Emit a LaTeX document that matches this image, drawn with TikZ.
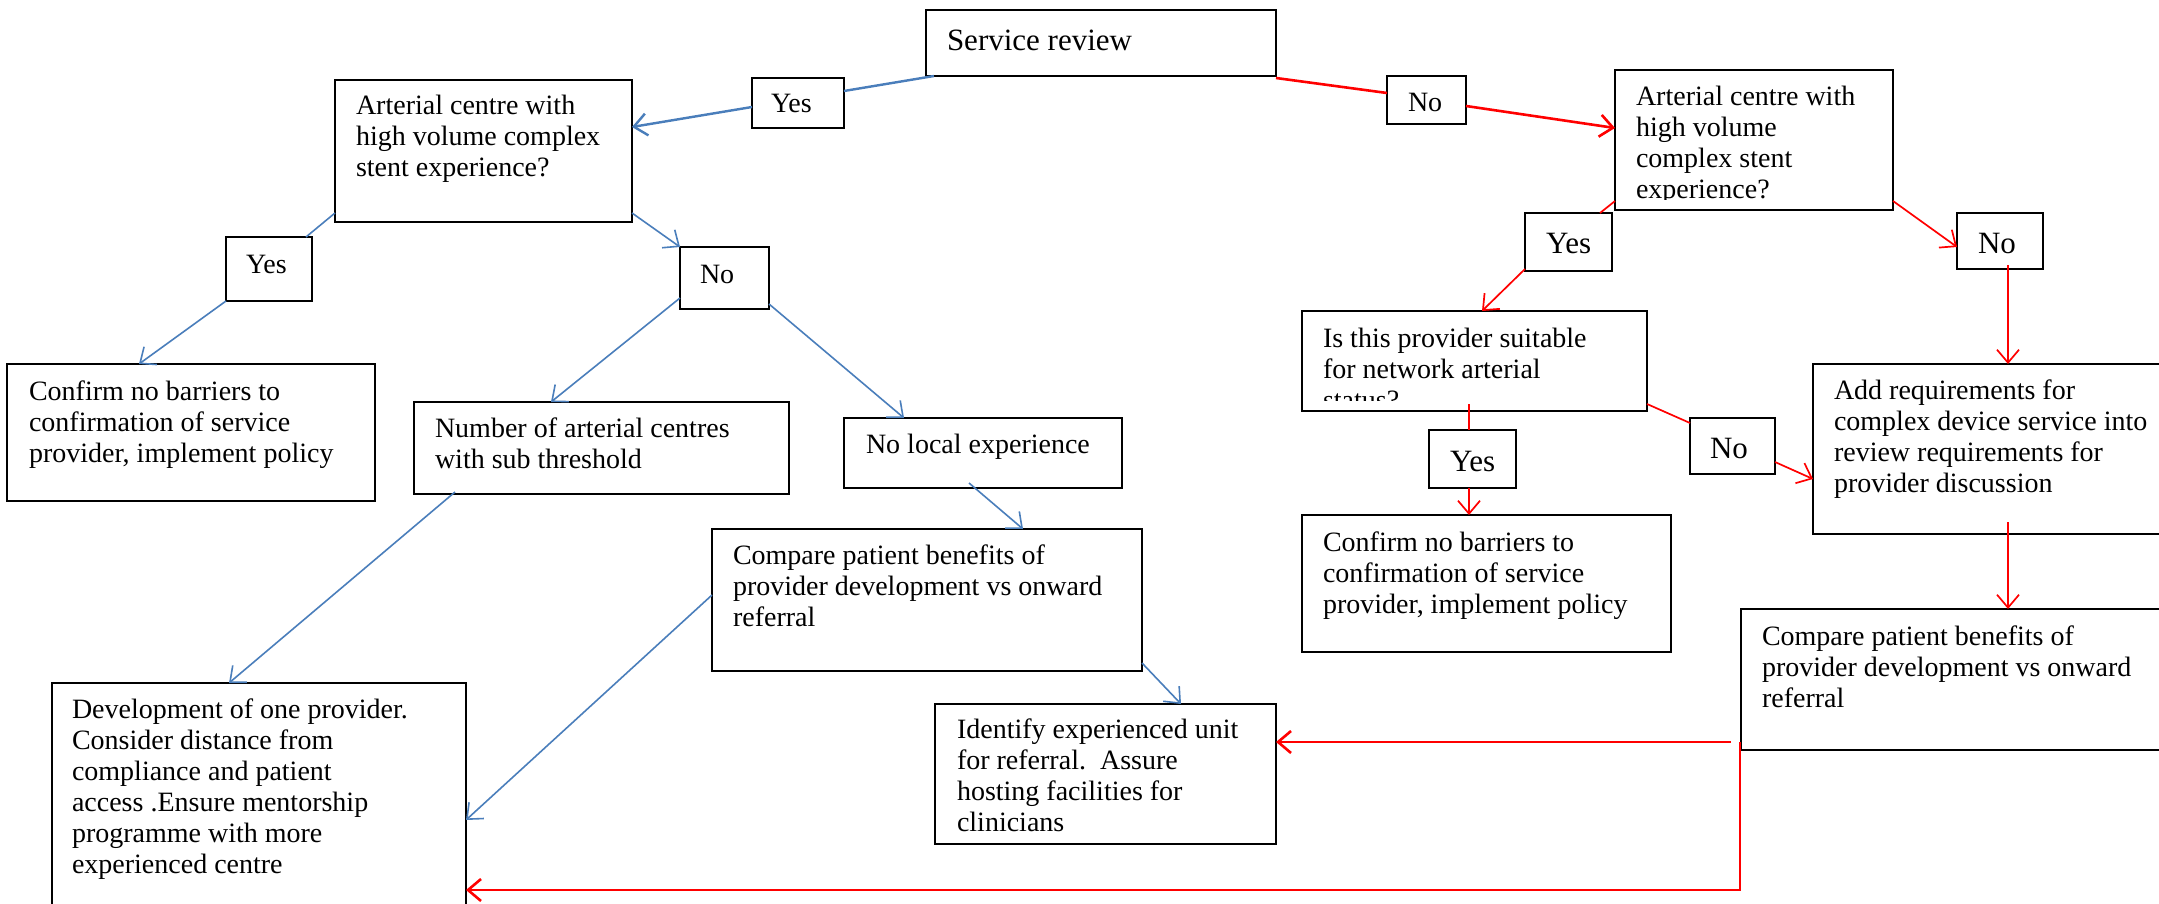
\documentclass[tikz,border=0pt]{standalone}
\usepackage{fontspec}
\setmainfont{Liberation Serif}
\usetikzlibrary{arrows.meta}
\definecolor{lblue}{HTML}{4A7EBB}
\definecolor{lred}{HTML}{FF0000}
\newcommand\ml[1]{\begin{tabular}[t]{@{}l@{}}#1\end{tabular}}
\newcommand\bx[6][]{%
  \node[box,minimum width={(#5-#3)*1pt},minimum height={(#6-#4)*1pt},#1] (#2) at (#3,#4) {};}
\tikzset{
  box/.style={draw=black, line width=1.8pt, rectangle, inner sep=0pt, outer sep=0pt, anchor=north west},
  thickbox/.style={line width=2.8pt},
  txt/.style={anchor=base west, inner sep=0pt, outer sep=0pt, font=\fontsize{28}{31}\selectfont},
  bigtxt/.style={anchor=base west, inner sep=0pt, outer sep=0pt, font=\fontsize{31}{36}\selectfont},
  blu/.style={draw=lblue, line width=1.6pt},
  bluthick/.style={draw=lblue, line width=2.4pt},
  rd/.style={draw=lred, line width=1.7pt},
  rdthick/.style={draw=lred, line width=2.6pt},
  arr/.style={-{Straight Barb[length=13pt,width=22pt]}},
}
\begin{document}
\begin{tikzpicture}[x=1pt,y=-1pt]
\fill[white] (0,0) rectangle (2159,904);
\useasboundingbox (0,0) rectangle (2159,904);

% ---------- boxes ----------
\bx[thickbox]{sr}{926}{10}{1276}{76}
\bx{y1}{752}{78}{844}{128}
\bx{al}{335}{80}{632}{222}
\bx{yl}{226}{237}{312}{301}
\bx{nl}{680}{247}{769}{309}
\bx[thickbox]{cl}{7}{364}{375}{501}
\bx{num}{414}{402}{789}{494}
\bx{nloc}{844}{418}{1122}{488}
\bx{cmpm}{712}{529}{1142}{671}
\bx{dev}{52}{683}{466}{918}
\bx{ident}{935}{704}{1276}{844}
\bx{n1}{1387}{76}{1466}{124}
\bx{ar}{1615}{70}{1893}{210}
\bx{yr}{1525}{213}{1612}{271}
\bx{nfr}{1957}{213}{2043}{269}
\bx{isp}{1302}{311}{1647}{411}
\bx{yl2}{1429}{430}{1516}{488}
\bx{nl2}{1690}{418}{1775}{474}
\bx{add}{1813}{364}{2175}{534}
\bx[thickbox]{crt}{1302}{515}{1671}{652}
\bx{cr}{1741}{609}{2175}{750}

% ---------- texts ----------
\node[bigtxt] (sr-t) at ([shift={(21,41)}]sr.north west) {Service review};
\node[txt] (y1-t) at ([shift={(19,35)}]y1.north west) {Yes};
\node[txt] (al-t) at ([shift={(21,35)}]al.north west) {\ml{Arterial centre with\\high volume complex\\stent experience?}};
\node[txt] (yl-t) at ([shift={(20,36)}]yl.north west) {Yes};
\node[txt] (nl-t) at ([shift={(20,36)}]nl.north west) {No};
\node[txt] (cl-t) at ([shift={(22,36)}]cl.north west) {\ml{Confirm no barriers to\\confirmation of service\\provider, implement policy}};
\node[txt] (num-t) at ([shift={(21,35)}]num.north west) {\ml{Number of arterial centres\\with sub threshold}};
\node[txt] (nloc-t) at ([shift={(22,35)}]nloc.north west) {No local experience};
\node[txt] (cmpm-t) at ([shift={(21,35)}]cmpm.north west) {\ml{Compare patient benefits of\\provider development vs onward\\referral}};
\node[txt] (dev-t) at ([shift={(20,35)}]dev.north west) {\ml{Development of one provider.\\Consider distance from\\compliance and patient\\access .Ensure mentorship\\programme with more\\experienced centre}};
\node[txt] (ident-t) at ([shift={(22,34)}]ident.north west) {\ml{Identify experienced unit\\for referral.\ \ Assure\\hosting facilities for\\clinicians}};
\node[txt] (n1-t) at ([shift={(21,36)}]n1.north west) {No};
\begin{scope}
  \clip (1615,70) rectangle (1893,200);
  \node[txt] (ar-t) at ([shift={(21,36)}]ar.north west) {\ml{Arterial centre with\\high volume\\complex stent\\experience?}};
\end{scope}
\node[bigtxt] (yr-t) at ([shift={(21,40)}]yr.north west) {Yes};
\node[bigtxt] (nfr-t) at ([shift={(21,40)}]nfr.north west) {No};
\begin{scope}
  \clip (1302,311) rectangle (1647,400);
  \node[txt] (isp-t) at ([shift={(21,36)}]isp.north west) {\ml{Is this provider suitable\\for network arterial\\status?}};
\end{scope}
\node[bigtxt] (yl2-t) at ([shift={(21,41)}]yl2.north west) {Yes};
\node[bigtxt] (nl2-t) at ([shift={(20,40)}]nl2.north west) {No};
\node[txt] (add-t) at ([shift={(21,35)}]add.north west) {\ml{Add requirements for\\complex device service into\\review requirements for\\provider discussion}};
\node[txt] (crt-t) at ([shift={(21,36)}]crt.north west) {\ml{Confirm no barriers to\\confirmation of service\\provider, implement policy}};
\node[txt] (cr-t) at ([shift={(21,36)}]cr.north west) {\ml{Compare patient benefits of\\provider development vs onward\\referral}};

% ---------- blue connectors ----------
\draw[bluthick] ([shift={(8,66)}]sr.north west) -- ([shift={(92,13)}]y1.north west);
\draw[bluthick,arr] ([shift={(0,29)}]y1.north west) -- ([shift={(297,47)}]al.north west);
\draw[blu] ([shift={(0,133)}]al.north west) -- ([shift={(80,0)}]yl.north west);
\draw[blu,arr] ([shift={(0,64)}]yl.north west) -- ([shift={(132,0)}]cl.north west);
\draw[blu,arr] ([shift={(297,133)}]al.north west) -- ([shift={(0,0)}]nl.north west);
\draw[blu,arr] ([shift={(0,51)}]nl.north west) -- ([shift={(137,0)}]num.north west);
\draw[blu,arr] ([shift={(89,57)}]nl.north west) -- ([shift={(60,0)}]nloc.north west);
\draw[blu,arr] ([shift={(41,90)}]num.north west) -- ([shift={(177,0)}]dev.north west);
\draw[blu,arr] ([shift={(125,65)}]nloc.north west) -- ([shift={(311,0)}]cmpm.north west);
\draw[blu,arr] ([shift={(0,66)}]cmpm.north west) -- ([shift={(414,137)}]dev.north west);
\draw[blu,arr] ([shift={(430,134)}]cmpm.north west) -- ([shift={(246,0)}]ident.north west);

% ---------- red connectors ----------
\draw[rdthick] ([shift={(350,68)}]sr.north west) -- ([shift={(0,17)}]n1.north west);
\draw[rdthick,arr] ([shift={(79,30)}]n1.north west) -- ([shift={(0,58)}]ar.north west);
\draw[rd] ([shift={(0,131)}]ar.north west) -- ([shift={(75,0)}]yr.north west);
\draw[rd,arr] ([shift={(0,56)}]yr.north west) -- ([shift={(180,0)}]isp.north west);
\draw[rd,arr] ([shift={(278,131)}]ar.north west) -- ([shift={(0,34)}]nfr.north west);
\draw[rd,arr] ([shift={(51,52)}]nfr.north west) -- ([shift={(195,0)}]add.north west);
\draw[rd] ([shift={(167,93)}]isp.north west) -- ([shift={(40,0)}]yl2.north west);
\draw[rd,arr] ([shift={(40,58)}]yl2.north west) -- ([shift={(167,0)}]crt.north west);
\draw[rd] ([shift={(345,93)}]isp.north west) -- ([shift={(0,5)}]nl2.north west);
\draw[rd,arr] ([shift={(85,44)}]nl2.north west) -- ([shift={(0,115)}]add.north west);
\draw[rd,arr] ([shift={(195,158)}]add.north west) -- ([shift={(267,0)}]cr.north west);
\draw[rdthick,arr] ([shift={(-10,133)}]cr.north west) -- ([shift={(341,38)}]ident.north west);
\draw[rdthick,arr] ([shift={(-1,133)}]cr.north west) |- ([shift={(414,207)}]dev.north west);
\end{tikzpicture}
\end{document}
